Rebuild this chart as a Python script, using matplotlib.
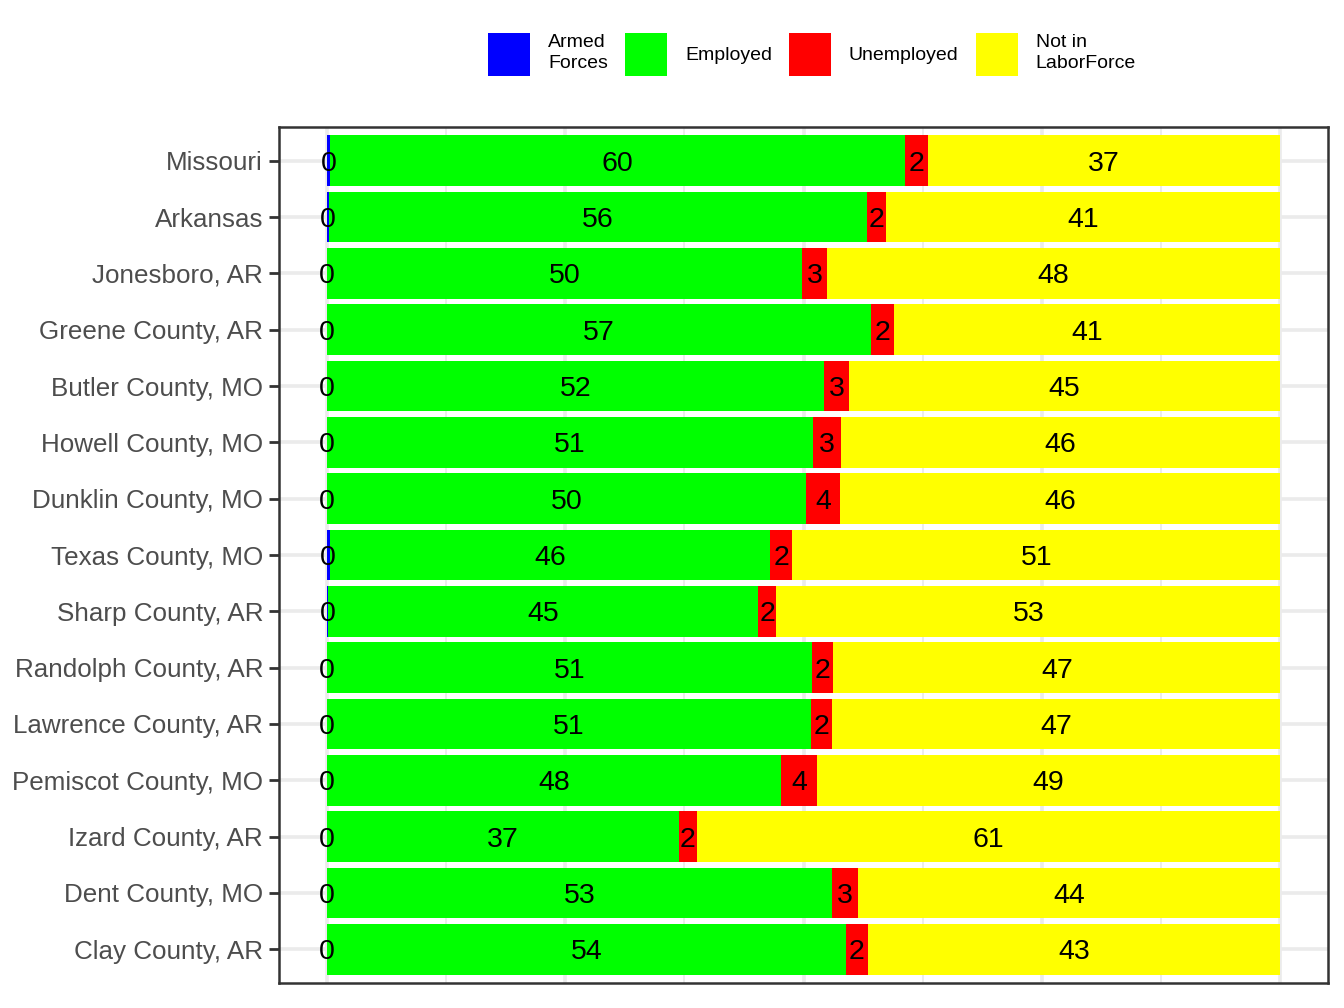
import matplotlib
matplotlib.use("Agg")
import matplotlib.pyplot as plt
from matplotlib.patches import Patch
import numpy as np

plt.rcParams['font.family'] = ['Liberation Sans', 'DejaVu Sans']

places = ["Missouri", "Arkansas", "Jonesboro, AR", "Greene County, AR",
          "Butler County, MO", "Howell County, MO", "Dunklin County, MO",
          "Texas County, MO", "Sharp County, AR", "Randolph County, AR",
          "Lawrence County, AR", "Pemiscot County, MO", "Izard County, AR",
          "Dent County, MO", "Clay County, AR"]

armed = [0.40, 0.23, 0.08, 0.05, 0.05, 0.05, 0.05, 0.33, 0.15, 0.03, 0.03, 0.03, 0.03, 0.03, 0.03]
employed = [60.2, 56.4, 49.8, 57.0, 52.1, 50.9, 50.2, 46.2, 45.1, 50.9, 50.8, 47.6, 36.9, 53.0, 54.4]
unemployed = [2.45, 2.0, 2.6, 2.4, 2.6, 3.0, 3.6, 2.3, 1.9, 2.2, 2.2, 3.8, 1.9, 2.7, 2.3]
not_in_lf = [36.95, 41.37, 47.52, 40.55, 45.25, 46.05, 46.15, 51.17, 52.85, 46.87, 46.97, 48.57, 61.17, 44.27, 43.27]

series_names = ["Armed\nForces", "Employed", "Unemployed", "Not in\nLaborForce"]
series_colors = ["#0000FF", "#00FF00", "#FF0000", "#FFFF00"]

fig = plt.figure(figsize=(13.44, 10.08), dpi=100)
ax = fig.add_axes([279/1344, 1 - 983/1008, (1328-279)/1344, (983-127)/1008])

y = np.arange(len(places))
left = np.zeros(len(places))
for vals, col in zip([armed, employed, unemployed, not_in_lf], series_colors):
    vals = np.array(vals)
    ax.barh(y, vals, left=left, height=0.9, color=col, zorder=2, linewidth=0)
    for yi, l, v in zip(y, left, vals):
        ax.text(l + v/2, yi, f"{v:.0f}", ha='center', va='center_baseline',
                fontsize=20.5, color='black', zorder=3)
    left = left + vals

ax.set_xlim(-5, 105)
ax.set_ylim(len(places) - 0.4, -0.6)
ax.set_yticks(y)
ax.set_yticklabels(places, fontsize=18.7, color='#4D4D4D')
ax.set_xticks([0, 25, 50, 75, 100])
ax.set_xticks([12.5, 37.5, 62.5, 87.5], minor=True)
ax.tick_params(axis='x', which='both', bottom=False, labelbottom=False)
ax.tick_params(axis='y', length=7, width=2, color='#333333', pad=4.5)
ax.grid(True, which='major', color='#EBEBEB', linewidth=2.6, zorder=0)
ax.grid(True, which='minor', axis='x', color='#EBEBEB', linewidth=1.3, zorder=0)
ax.set_axisbelow(True)
for s in ax.spines.values():
    s.set_color('#333333')
    s.set_linewidth(1.8)

handles = [Patch(facecolor=c, edgecolor='none') for c in series_colors]
fs = 14.0
px = fs * 100 / 72
leg = fig.legend(handles, series_names, loc='center', bbox_to_anchor=(812/1344, 1 - 54/1008),
                 ncol=4, frameon=False, fontsize=fs, handlelength=42/px,
                 handleheight=(43/px - 0.245)/0.65,
                 handletextpad=18/px, columnspacing=17/px, borderaxespad=0)
for t in leg.get_texts():
    t.set_linespacing(1.3)

fig.savefig("out.png", dpi=100)
